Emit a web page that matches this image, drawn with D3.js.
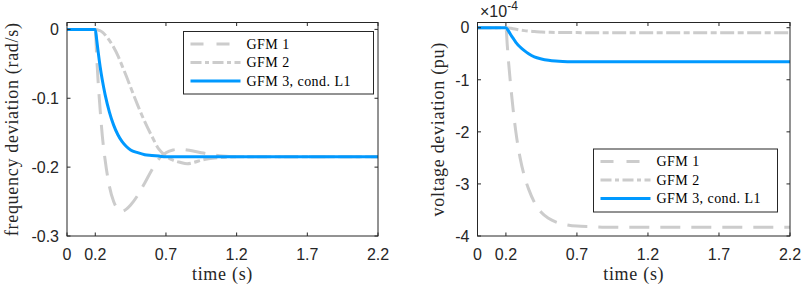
<!DOCTYPE html>
<html lang="en">

<head>
    <meta charset="UTF-8" />
    <title>GFM deviations</title>
    <script src="https://d3js.org/d3.v7.js"></script>
    <style>
        body { margin: 0; background: white; }
    </style>
</head>

<body>
    <script>
        // frequency deviation (rad/s), left panel
        var freqTime = [0, 0.2, 0.21, 0.22, 0.235, 0.25, 0.27, 0.3, 0.33, 0.36, 0.39, 0.42, 0.45, 0.5, 0.55,
            0.6, 0.65, 0.7, 0.75, 0.8, 0.85, 0.9, 0.95, 1.0, 1.1, 1.2, 1.4, 1.7, 2.2];
        var freqGfm1 = [0, 0, -0.04, -0.075, -0.118, -0.155, -0.19, -0.228, -0.25, -0.261, -0.264, -0.261, -0.255, -0.241, -0.223,
            -0.204, -0.188, -0.179, -0.175, -0.174, -0.175, -0.177, -0.179, -0.181, -0.184, -0.185, -0.185, -0.185, -0.185];
        var freqGfm2 = [0, 0, 0, -0.001, -0.002, -0.004, -0.008, -0.016, -0.026, -0.038, -0.053, -0.068, -0.084, -0.11, -0.134,
            -0.155, -0.174, -0.184, -0.19, -0.193, -0.195, -0.193, -0.19, -0.188, -0.186, -0.185, -0.185, -0.185, -0.185];
        var freqGfm3 = [0, 0, -0.015, -0.032, -0.055, -0.074, -0.095, -0.12, -0.139, -0.153, -0.163, -0.17, -0.175, -0.179, -0.182,
            -0.183, -0.184, -0.185, -0.185, -0.185, -0.185, -0.185, -0.185, -0.185, -0.185, -0.185, -0.185, -0.185, -0.185];

        // voltage deviation (x1e-4 pu), right panel
        var voltTime = [0, 0.2, 0.21, 0.22, 0.235, 0.25, 0.27, 0.3, 0.33, 0.36, 0.4, 0.45, 0.5, 0.55, 0.6, 0.7, 0.8, 0.9,
            1.0, 1.2, 1.5, 2.2];
        var voltGfm1 = [0, 0, -0.35, -0.7, -1.15, -1.55, -2.0, -2.5, -2.85, -3.1, -3.35, -3.55, -3.66, -3.73, -3.77, -3.81, -3.82, -3.83,
            -3.83, -3.83, -3.83, -3.83];
        var voltGfm2 = [0, 0, 0, -0.005, -0.012, -0.02, -0.03, -0.045, -0.056, -0.065, -0.075, -0.082, -0.087, -0.09, -0.092, -0.094, -0.095, -0.095,
            -0.095, -0.095, -0.095, -0.095];
        var voltGfm3 = [0, 0, -0.03, -0.07, -0.14, -0.2, -0.28, -0.37, -0.44, -0.5, -0.56, -0.6, -0.625, -0.64, -0.648, -0.653, -0.655, -0.655,
            -0.655, -0.655, -0.655, -0.655];

        var xTicks = [0, 0.2, 0.7, 1.2, 1.7, 2.2];
        var freqTicks = [0, -0.1, -0.2, -0.3];
        var voltTicks = [0, -1, -2, -3, -4];
        var seriesNames = ["GFM 1", "GFM 2", "GFM 3, cond. L1"];

        var w = 805;
        var h = 289;
        var axisColor = "#262626";
        var styles = [
            { color: "#cccccc", dash: "20,11" },
            { color: "#cccccc", dash: "14,3.5,6,3.5" },
            { color: "#0099ff", dash: null }
        ];

        var svg = d3.select("body")
            .append("svg")
            .attr("width", w)
            .attr("height", h)
            .style("font-family", "'Liberation Sans', Arial, sans-serif");

        function drawPanel(p) {
            var xScale = d3.scaleLinear().domain([0, 2.2]).range([p.left, p.right]);
            var yScale = d3.scaleLinear().domain(p.yDomain).range([p.bottom, p.top]);
            var g = svg.append("g");

            g.append("clipPath")
                .attr("id", p.id)
                .append("rect")
                .attr("x", p.left)
                .attr("y", p.top)
                .attr("width", p.right - p.left)
                .attr("height", p.bottom - p.top);

            var line = d3.line()
                .x(function (d) { return xScale(d[0]); })
                .y(function (d) { return yScale(d[1]); })
                .curve(d3.curveMonotoneX);

            p.series.forEach(function (vals, i) {
                var pts = p.time.map(function (t, k) { return [t, vals[k]]; });
                g.append("path")
                    .attr("clip-path", "url(#" + p.id + ")")
                    .attr("d", line(pts))
                    .attr("fill", "none")
                    .attr("stroke", styles[i].color)
                    .attr("stroke-width", 3)
                    .attr("stroke-dasharray", styles[i].dash);
            });

            // inward ticks on all four sides
            var tl = 3.5;
            xTicks.forEach(function (t) {
                g.append("line").attr("x1", xScale(t)).attr("x2", xScale(t))
                    .attr("y1", p.bottom).attr("y2", p.bottom - tl).attr("stroke", axisColor);
                g.append("line").attr("x1", xScale(t)).attr("x2", xScale(t))
                    .attr("y1", p.top).attr("y2", p.top + tl).attr("stroke", axisColor);
                g.append("text")
                    .attr("x", xScale(t))
                    .attr("y", p.bottom + 24)
                    .attr("text-anchor", "middle")
                    .attr("font-size", 16)
                    .attr("fill", axisColor)
                    .text(t);
            });
            p.yTicks.forEach(function (v) {
                g.append("line").attr("x1", p.left).attr("x2", p.left + tl)
                    .attr("y1", yScale(v)).attr("y2", yScale(v)).attr("stroke", axisColor);
                g.append("line").attr("x1", p.right).attr("x2", p.right - tl)
                    .attr("y1", yScale(v)).attr("y2", yScale(v)).attr("stroke", axisColor);
                g.append("text")
                    .attr("x", p.left - 8)
                    .attr("y", yScale(v))
                    .attr("dy", "0.36em")
                    .attr("text-anchor", "end")
                    .attr("font-size", 16)
                    .attr("fill", axisColor)
                    .text(v);
            });

            g.append("rect")
                .attr("x", p.left)
                .attr("y", p.top)
                .attr("width", p.right - p.left)
                .attr("height", p.bottom - p.top)
                .attr("fill", "none")
                .attr("stroke", axisColor)
                .attr("stroke-width", 1);

            // axis labels
            g.append("text")
                .attr("x", (p.left + p.right) / 2)
                .attr("y", 280)
                .attr("text-anchor", "middle")
                .attr("font-family", "'Liberation Serif', serif")
                .attr("font-size", 18)
                .attr("letter-spacing", 0.7)
                .attr("fill", axisColor)
                .text("time (s)");
            g.append("text")
                .attr("transform", "translate(" + p.labelX + "," + (p.top + p.bottom) / 2 + ") rotate(-90)")
                .attr("text-anchor", "middle")
                .attr("font-family", "'Liberation Serif', serif")
                .attr("font-size", 18)
                .attr("letter-spacing", 0.7)
                .attr("fill", axisColor)
                .text(p.yLabel);

            // legend
            var lg = p.legend;
            g.append("rect")
                .attr("x", lg.x)
                .attr("y", lg.y)
                .attr("width", lg.w)
                .attr("height", lg.h)
                .attr("fill", "white")
                .attr("stroke", axisColor)
                .attr("stroke-width", 1);
            seriesNames.forEach(function (name, i) {
                var yy = lg.y + 12.5 + i * 18.5;
                g.append("line")
                    .attr("x1", lg.x + 7)
                    .attr("x2", lg.x + 57)
                    .attr("y1", yy)
                    .attr("y2", yy)
                    .attr("stroke", styles[i].color)
                    .attr("stroke-width", 3)
                    .attr("stroke-dasharray", i == 0 ? "13,13" : (i == 1 ? "11,3.5,4,3.5" : null));
                g.append("text")
                    .attr("x", lg.x + 63)
                    .attr("y", yy)
                    .attr("dy", "0.35em")
                    .attr("font-family", "'Liberation Serif', serif")
                    .attr("font-size", 14)
                    .attr("letter-spacing", 0.45)
                    .attr("fill", "black")
                    .text(name);
            });
        }

        drawPanel({
            id: "clipFreq",
            left: 67, right: 378, top: 22.5, bottom: 236,
            yDomain: [-0.3, 0.01],
            yTicks: freqTicks,
            time: freqTime,
            series: [freqGfm1, freqGfm2, freqGfm3],
            yLabel: "frequency deviation (rad/s)",
            labelX: 18,
            legend: { x: 183.5, y: 31.5, w: 190, h: 62.5 }
        });

        drawPanel({
            id: "clipVolt",
            left: 477.5, right: 790, top: 22.5, bottom: 236,
            yDomain: [-4, 0.1],
            yTicks: voltTicks,
            time: voltTime,
            series: [voltGfm1, voltGfm2, voltGfm3],
            yLabel: "voltage deviation (pu)",
            labelX: 444,
            legend: { x: 593.5, y: 149, w: 184, h: 63 }
        });

        // exponent label of right axis
        var expo = svg.append("text")
            .attr("x", 480)
            .attr("y", 16.5)
            .attr("fill", axisColor)
            .attr("font-size", 16);
        expo.append("tspan").text("\u00d710");
        expo.append("tspan").attr("font-size", 12).attr("dy", -7).text("-4");
    </script>
</body>

</html>
